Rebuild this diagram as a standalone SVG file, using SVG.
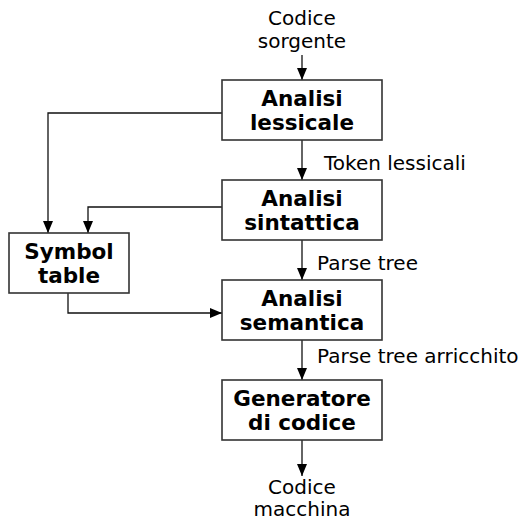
<svg xmlns="http://www.w3.org/2000/svg" width="520" height="523" viewBox="0 0 520 523">
<style>
.box{fill:#fff;stroke:#333;stroke-width:1.6}
.b{font-family:"DejaVu Sans",Verdana,sans-serif;font-weight:bold;font-size:21.5px;text-anchor:middle;fill:#000}
.t{font-family:"DejaVu Sans",Verdana,sans-serif;font-size:20px;fill:#000}
.c{text-anchor:middle}
.ln{fill:none;stroke:#111;stroke-width:1.3}
</style>
<defs>
<marker id="ah" viewBox="0 0 12 10" refX="12" refY="5" markerWidth="12" markerHeight="10" markerUnits="userSpaceOnUse" orient="auto">
<path d="M0,0 L12,5 L0,10 Z" fill="#000"/>
</marker>
</defs>
<rect width="520" height="523" fill="#fff"/>
<g id="connectors">
<path class="ln" d="M302,55 V80" marker-end="url(#ah)"/>
<path class="ln" d="M302,140 V180" marker-end="url(#ah)"/>
<path class="ln" d="M302,240 V280" marker-end="url(#ah)"/>
<path class="ln" d="M302,340 V380" marker-end="url(#ah)"/>
<path class="ln" d="M302,440 V476" marker-end="url(#ah)"/>
<path class="ln" d="M222,113 H48 V233" marker-end="url(#ah)"/>
<path class="ln" d="M222,207 H88 V233" marker-end="url(#ah)"/>
<path class="ln" d="M68,293 V313 H222" marker-end="url(#ah)"/>
<text class="t" x="324" y="170">Token lessicali</text>
<text class="t" x="317" y="270">Parse tree</text>
<text class="t" x="317" y="363">Parse tree arricchito</text>
</g>
<g id="input">
<text class="t c" x="302" y="25">Codice</text>
<text class="t c" x="302" y="48">sorgente</text>
</g>
<g id="lessicale">
<rect class="box" x="222" y="80" width="160" height="60"/>
<text class="b" x="302" y="106">Analisi</text>
<text class="b" x="302" y="130">lessicale</text>
</g>
<g id="sintattica">
<rect class="box" x="222" y="180" width="160" height="60"/>
<text class="b" x="302" y="206">Analisi</text>
<text class="b" x="302" y="230">sintattica</text>
</g>
<g id="semantica">
<rect class="box" x="222" y="280" width="160" height="60"/>
<text class="b" x="302" y="306">Analisi</text>
<text class="b" x="302" y="330">semantica</text>
</g>
<g id="generatore">
<rect class="box" x="222" y="380" width="160" height="60"/>
<text class="b" x="302" y="406">Generatore</text>
<text class="b" x="302" y="430">di codice</text>
</g>
<g id="symboltable">
<rect class="box" x="9" y="233" width="120" height="60"/>
<text class="b" x="69" y="259">Symbol</text>
<text class="b" x="69" y="283">table</text>
</g>
<g id="output">
<text class="t c" x="302" y="494">Codice</text>
<text class="t c" x="302" y="516">macchina</text>
</g>
</svg>
